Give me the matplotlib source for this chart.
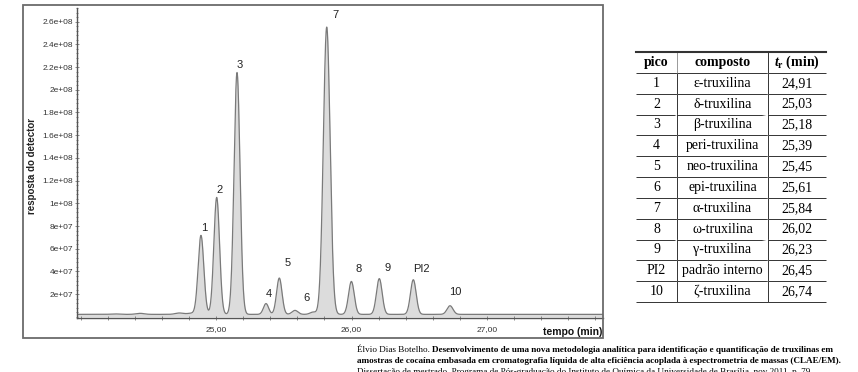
import numpy as np
import matplotlib.pyplot as plt
from matplotlib.patches import Rectangle
from matplotlib.ticker import FixedLocator, MultipleLocator

plt.rcParams['font.family'] = ['Liberation Sans', 'DejaVu Sans']
plt.rcParams['mathtext.fontset'] = 'custom'
plt.rcParams['mathtext.it'] = 'Liberation Serif:italic:bold'
plt.rcParams['mathtext.rm'] = 'Liberation Serif:bold'

# peaks: retention time (min), height, width (sigma, min)
peak_names = ['1', '2', '3', '4', '5', '6', '', '7', '8', '9', 'PI2', '10']
peak_t = [24.889, 25.005, 25.155, 25.369, 25.467, 25.583, 25.716, 25.817, 25.999, 26.205, 26.456, 26.727]
peak_h = [6.95e7, 1.03e8, 2.13e8, 9.5e6, 3.2e7, 3.5e6, 2.0e6, 2.53e8, 2.9e7, 3.15e7, 3.05e7, 7.6e6]
peak_w = [0.021, 0.021, 0.022, 0.019, 0.02, 0.022, 0.022, 0.025, 0.021, 0.021, 0.021, 0.022]
# small baseline wiggles
bump_t = [24.25, 24.44, 24.73, 24.82]
bump_h = [4e5, 9e5, 1.2e6, 1.0e6]
baseline = 2.2e6

# label offsets in points (layout only)
label_off = [(2, 2), (2, 2), (2, 2), (2, 3), (6, 7), (8, 5), (0, 0), (6, 5), (5, 5), (6, 4), (6, 4), (4, 6)]

ytick_vals = [2e7, 4e7, 6e7, 8e7, 1e8, 1.2e8, 1.4e8, 1.6e8, 1.8e8, 2e8, 2.2e8, 2.4e8, 2.6e8]
ytick_labels = ['2e+07', '4e+07', '6e+07', '8e+07', '1e+08', '1.2e+08', '1.4e+08',
                '1.6e+08', '1.8e+08', '2e+08', '2.2e+08', '2.4e+08', '2.6e+08']
xtick_vals = [25, 26, 27]
xtick_labels = ['25,00', '26,00', '27,00']

# table
tab_pico = ['1', '2', '3', '4', '5', '6', '7', '8', '9', 'PI2', '10']
tab_comp = ['ε-truxilina', 'δ-truxilina', 'β-truxilina', 'peri-truxilina', 'neo-truxilina',
            'epi-truxilina', 'α-truxilina', 'ω-truxilina', 'γ-truxilina', 'padrão interno', 'ζ-truxilina']
tab_tr = ['24,91', '25,03', '25,18', '25,39', '25,45', '25,61', '25,84', '26,02', '26,23', '26,45', '26,74']
tab_head = ['pico', 'composto', r'$t_{\rm r}$ (min)']

W, H = 858, 372
fig = plt.figure(figsize=(W / 100, H / 100), dpi=100)

# outer frame round the chromatogram
fig.patches.append(Rectangle((23 / W, 1 - 338 / H), 580 / W, 333 / H, transform=fig.transFigure,
                             fill=False, ec='#6b6b6b', lw=1.3))

ax = fig.add_axes([77 / W, 1 - 318 / H, (603 - 77) / W, (318 - 8) / H])
t = np.linspace(23.9, 27.9, 5000)
sig = np.full_like(t, baseline)
for c, h, w in zip(peak_t, peak_h, peak_w):
    sig += h * np.exp(-0.5 * ((t - c) / w) ** 2)
for c, h in zip(bump_t, bump_h):
    sig += h * np.exp(-0.5 * ((t - c) / 0.03) ** 2)

ax.fill_between(t, 0, sig, color='#dcdcdc', lw=0)
ax.plot(t, sig, color='#7a7a7a', lw=0.9)

for name, c, h, off in zip(peak_names, peak_t, peak_h, label_off):
    if name:
        ax.annotate(name, (c, h + baseline), xytext=off, textcoords='offset points',
                    ha='center', va='bottom', fontsize=8, color='#222222')

ax.set_xlim(23.974, 27.856)
ax.set_ylim(-1e6, 2.72e8)
for s in ['top', 'right']:
    ax.spines[s].set_visible(False)
for s in ['left', 'bottom']:
    ax.spines[s].set_color('#555555')
    ax.spines[s].set_linewidth(1)

ax.yaxis.set_major_locator(FixedLocator(ytick_vals))
ax.set_yticklabels(ytick_labels)
ax.yaxis.set_minor_locator(MultipleLocator(4e6))
ax.xaxis.set_major_locator(FixedLocator(xtick_vals))
ax.set_xticklabels(xtick_labels)
ax.xaxis.set_minor_locator(MultipleLocator(0.2))
ax.tick_params(axis='both', which='both', direction='inout', color='#777777', width=0.6)
ax.tick_params(axis='y', which='major', length=3, labelsize=6, pad=1.5, labelcolor='#333333')
ax.tick_params(axis='y', which='minor', length=2)
ax.tick_params(axis='x', which='major', length=3, labelsize=6, pad=4, labelcolor='#333333')
ax.tick_params(axis='x', which='minor', length=3)

fig.text(32 / W, 1 - 166 / H, 'resposta do detector', rotation=90, ha='center', va='center',
         fontsize=7, fontweight='bold', color='#222222')
fig.text(602 / W, 1 - 332 / H, 'tempo (min)', ha='right', va='center',
         fontsize=7.5, fontweight='bold', color='#111111')

# table of peaks
tax = fig.add_axes([636 / W, 1 - 302 / H, (826 - 636) / W, (302 - 52) / H])
tax.axis('off')
rows = [[p, c, r] for p, c, r in zip(tab_pico, tab_comp, tab_tr)]
tb = tax.table(cellText=rows, colLabels=tab_head, bbox=[0, 0, 1, 1],
               colWidths=[41 / 190, 91 / 190, 58 / 190], cellLoc='center')
tb.auto_set_font_size(False)
tb.set_fontsize(10)
for (r, c), cell in tb.get_celld().items():
    cell.set_edgecolor('#333333')
    cell.set_linewidth(0.7)
    cell.visible_edges = ('TB' if r == 0 else 'B') + ('R' if c < 2 else '')
    cell.get_text().set_fontfamily('Liberation Serif')
    if r == 0:
        cell.get_text().set_fontweight('bold')
tax.plot([0, 1], [1, 1], color='#333333', lw=1.5, transform=tax.transAxes, clip_on=False)

# caption under the figure (third line is cut by the picture edge, as in the source)
cap_kw = dict(fontsize=6.55, family='Liberation Serif', va='center', ha='left')
t1 = fig.text(357 / W, 1 - 350 / H, 'Élvio Dias Botelho. ', **cap_kw)
ax.annotate('Desenvolvimento de uma nova metodologia analítica para identificação e quantificação de truxilinas em',
            xy=(1, 0.5), xycoords=t1, fontweight='bold', annotation_clip=False, **cap_kw)
fig.text(357 / W, 1 - 361 / H,
         'amostras de cocaína embasada em cromatografia líquida de alta eficiência acoplada à espectrometria de massas (CLAE/EM).',
         fontweight='bold', **cap_kw)
fig.text(357 / W, 1 - 372 / H,
         'Dissertação de mestrado. Programa de Pós-graduação do Instituto de Química da Universidade de Brasília, nov 2011, p. 79.',
         **cap_kw)

fig.savefig('out.png', dpi=100)
